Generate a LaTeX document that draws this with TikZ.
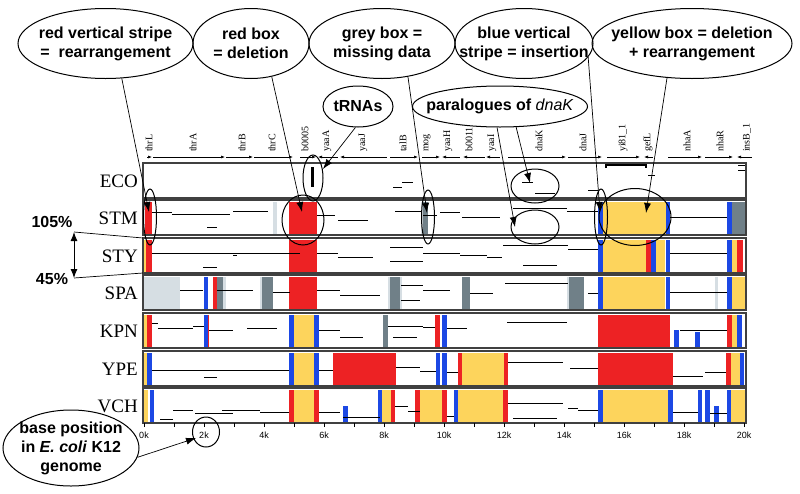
\documentclass[tikz,border=0pt]{standalone}
\usepackage{fontspec}
\setmainfont{Liberation Serif}
\setsansfont{Liberation Sans}
\usetikzlibrary{shapes.geometric,arrows.meta}
\definecolor{delred}{RGB}{237,34,36}
\definecolor{insblue}{RGB}{28,72,228}
\definecolor{indelyellow}{RGB}{253,212,92}
\definecolor{nodata}{RGB}{112,128,136}
\definecolor{nodatalight}{RGB}{214,222,227}
\tikzset{
    callout/.style={ellipse, draw, line width=1pt, inner xsep=-20pt,
        inner ysep=-2pt, minimum height=70pt, align=center,
        font=\sffamily\bfseries\fontsize{16}{19}\selectfont}
}
\tikzset{
    ring/.style={ellipse, draw, line width=1pt, inner sep=0pt}
}
\tikzset{
    pointer/.style={-{Latex[length=10pt,width=7pt]}, line width=0.7pt},
    span/.style={{Latex[length=9pt,width=7pt]}-{Latex[length=9pt,width=7pt]},
        line width=1pt}
}
\tikzset{
    frame/.style={draw=black!75, line width=1.4pt},
    seg/.style={line width=0.9pt},
    fwd/.style={-{Latex[length=4pt,width=3pt]}, line width=0.6pt},
    bwd/.style={{Latex[length=4pt,width=3pt]}-, line width=0.6pt},
    species/.style={anchor=east, inner sep=0pt, font=\fontsize{19}{19}\selectfont},
    gene/.style={rotate=90, anchor=west, inner sep=1pt, font=\fontsize{10}{10}\selectfont},
    axislabel/.style={inner sep=1pt, font=\sffamily\fontsize{9}{9}\selectfont},
    pct/.style={inner sep=0pt, font=\sffamily\bfseries\fontsize{16}{16}\selectfont}
}

\begin{document}
\begin{tikzpicture}[x=1pt,y=-1pt]
  \useasboundingbox (0,0) rectangle (800,493);

  \foreach \a/\b/\t/\c in {145/152/200/delred, 273/277/200/nodatalight,
      289/317/200/delred, 421/423/200/nodatalight, 423/428/200/nodata,
      598/603/200/insblue, 603/666/200/indelyellow, 666/670/200/insblue,
      727/732/200/insblue, 732/746/200/nodata,
      144/146/238/indelyellow, 146/152/238/delred, 289/317/238/delred,
      598/603/238/insblue, 603/646/238/indelyellow, 646/651/238/delred,
      651/656/238/insblue, 656/665/238/indelyellow, 666/670/238/insblue,
      727/732/238/insblue, 732/737/238/indelyellow, 737/743/238/delred,
      144/180/275/nodatalight, 204/208/275/insblue, 213/217/275/delred,
      217/223/275/nodata, 223/226/275/nodatalight, 260/262/275/nodatalight,
      262/273/275/nodata, 289/317/275/delred, 388/390/275/nodatalight,
      390/400/275/nodata, 400/402/275/nodatalight, 462/470/275/nodata,
      567/569/275/nodatalight, 569/584/275/nodata, 598/603/275/insblue,
      603/665/275/indelyellow, 666/670/275/insblue, 715/718/275/nodatalight,
      727/732/275/insblue, 732/746/275/indelyellow,
      144/147/313/indelyellow, 147/152/313/delred, 204/208/313/insblue,
      208/209/313/delred, 289/294/313/insblue, 294/314/313/indelyellow,
      314/319/313/insblue, 383/388/313/nodata, 435/440/313/delred,
      442/447/313/insblue, 598/670/313/delred, 727/732/313/delred,
      732/737/313/indelyellow, 737/742/313/insblue,
      144/147/351/indelyellow, 147/152/351/insblue, 289/294/351/insblue,
      294/314/351/indelyellow, 314/319/351/insblue, 333/396/351/delred,
      436/440/351/insblue, 442/447/351/insblue, 458/462/351/delred,
      462/504/351/indelyellow, 504/508/351/delred, 598/673/351/delred,
      726/731/351/delred, 731/740/351/indelyellow, 740/744/351/insblue,
      144/148/388/indelyellow, 150/154/388/insblue, 289/294/388/delred,
      294/314/388/indelyellow, 314/319/388/delred, 378/382/388/insblue,
      382/391/388/indelyellow, 391/395/388/delred, 415/420/388/delred,
      420/442/388/indelyellow, 442/447/388/delred, 454/458/388/insblue,
      458/503/388/indelyellow, 503/508/388/delred, 598/603/388/insblue,
      603/668/388/indelyellow, 668/673/388/insblue, 698/702/388/insblue,
      705/710/388/insblue, 727/731/388/insblue, 731/746/388/indelyellow}
    \fill[\c] (\a,\t+1.5) rectangle (\b,\t+33.5);
  \fill[insblue] (674,330) rectangle (679,346.5);
  \fill[insblue] (695,332) rectangle (700,346.5);
  \fill[insblue] (343,406) rectangle (348,421.5);
  \fill[insblue] (714,406) rectangle (719,421.5);

  \foreach \a/\b/\y in {393/402/187, 402/413/182, 588/598/190, 522/533/182,
      535/555/193, 648/655/175, 738/746/165, 738/746/170,
      152/172/212, 172/230/214, 233/268/211, 207/217/227, 317/335/215,
      338/368/220, 395/422/211, 423/437/215, 440/460/212, 462/500/217,
      513/567/208, 567/598/211, 670/710/217, 710/727/217,
      152/300/253, 203/217/267, 233/237/255, 317/338/253, 338/373/257,
      390/423/247, 390/423/261, 423/460/253, 460/487/255, 487/502/257,
      503/568/245, 568/598/249, 523/557/265, 670/727/253,
      180/203/290, 217/253/290, 273/290/292, 317/340/290, 340/380/295,
      401/423/285, 401/420/300, 423/450/290, 470/493/293, 505/568/283,
      588/598/293, 670/727/292,
      152/158/323, 158/193/328, 193/204/326, 209/233/330, 247/277/328,
      319/340/330, 340/363/337, 388/423/326, 393/417/337, 423/435/327,
      447/467/328, 507/567/322, 680/727/330,
      152/289/370, 204/217/377, 319/333/370, 396/420/367, 420/436/371,
      447/458/372, 508/563/362, 570/598/368, 673/703/376, 705/726/372,
      160/173/419, 173/193/410, 195/233/413, 222/260/410, 260/289/412,
      319/340/412, 343/380/417, 395/408/406, 408/420/411, 447/454/416,
      508/563/403, 513/557/418, 568/578/408, 578/598/410, 673/698/412,
      710/727/413}
    \draw[seg] (\a,\y) -- (\b,\y);
  \fill (311,167) rectangle (314,187);
  \draw[line width=1.6pt, {Bar[width=6pt]}-{Bar[width=6pt]}] (605,165) -- (647,165);

  \foreach \t in {163,200,238,275,313,351,388}
    \draw[frame] (143,\t) rectangle (746,\t+35);
  \foreach \s/\t in {ECO/163, STM/200, STY/238, SPA/275, KPN/313, YPE/351, VCH/388}
    \node[species] (\s) at (138,\t+18) {\s};

  \foreach \a/\b/\d in {147/152/fwd, 153/225/fwd, 226/253/fwd, 254/293/fwd,
      300/316/fwd, 318/338/bwd, 340/387/bwd, 390/418/fwd, 422/440/fwd,
      442/460/bwd, 463/485/bwd, 486/500/bwd, 508/566/fwd, 568/602/fwd,
      607/640/fwd, 644/653/bwd, 668/702/fwd, 705/733/fwd, 737/752/bwd}
    \draw[\d] (\a,157) -- (\b,157);
  \foreach \x/\g [count=\i] in {149/thrL, 193/thrA, 242/thrB, 272/thrC,
      305/b0005, 327/yaaA, 363/yaaJ, 403/talB, 427/mog, 448/yaaH,
      469/b0011, 492/yaaI, 539/dnaK, 583/dnaJ, 623/yi81\_1, 648/gefL,
      687/nhaA, 720/nhaR, 747/insB\_1}
    \node[gene] (gene\i) at (\x,153) {\g};

  \foreach \kb in {0,...,20}
    \draw[line width=0.6pt] (144+30*\kb,423) -- (144+30*\kb,427);
  \foreach \kb in {0,2,...,20}
    \node[axislabel] (tick\kb) at (144+30*\kb,435) {\kb k};

  \node[pct] (p105) at (52,222) {105\%};
  \node[pct] (p45) at (52,279) {45\%};
  \coordinate (hitop) at (74,232);
  \coordinate (lobot) at (74,278);
  \coordinate (stytop) at (143,238);
  \coordinate (stybot) at (143,273);
  \draw[span] (hitop) -- (lobot);
  \draw[line width=0.7pt] (hitop) -- (stytop);
  \draw[line width=0.7pt] (lobot) -- (stybot);

  \node[ring, minimum width=13pt, minimum height=56pt] (stripering) at (150,217) {};
  \node[ring, minimum width=42pt, minimum height=50pt] (deletering) at (303,220) {};
  \node[ring, minimum width=20pt, minimum height=46pt] (trnaring) at (313,178) {};
  \node[ring, minimum width=13pt, minimum height=54pt] (greyring) at (428,217) {};
  \node[ring, minimum width=48pt, minimum height=34pt] (ecoring) at (535,186) {};
  \node[ring, minimum width=48pt, minimum height=34pt] (stmring) at (535,227) {};
  \node[ring, minimum width=13pt, minimum height=56pt] (bluering) at (601,217) {};
  \node[ring, minimum width=72pt, minimum height=57pt] (yellowring) at (635,217) {};
  \node[ring, minimum width=27pt, minimum height=30pt] (twokring) at (206,432) {};

  \node[callout, minimum width=175pt] (rearr) at (105.5,43.5)
    {red vertical stripe\\=\ \ rearrangement};
  \node[callout, minimum width=116pt] (delbox) at (251,43.5) {red box\\= deletion};
  \node[callout, minimum width=146pt] (greybox) at (382,43.5) {grey box =\\missing data};
  \node[callout, minimum width=138pt] (insstripe) at (524,43.5)
    {blue vertical\\stripe = insertion};
  \node[callout, minimum width=200pt] (yelbox) at (692,43.5)
    {yellow box = deletion\\+ rearrangement};
  \node[callout, minimum width=70pt, minimum height=41pt] (trna) at (358,106.5) {tRNAs};
  \node[callout, minimum width=175pt, minimum height=41pt] (para) at (500,106.5)
    {paralogues of \textmd{\textit{dnaK}}};
  \node[callout, minimum width=136pt, minimum height=76pt] (basepos) at (71,448)
    {base position\\in \textit{E. coli} K12\\genome};

  \coordinate (stmstripe) at (149,212);
  \coordinate (stmdel) at (302,212);
  \coordinate (stmgrey) at (427,213);
  \coordinate (stmins) at (600,212);
  \coordinate (stmyel) at (646,213);
  \coordinate (ecotrna) at (323,169);
  \coordinate (ecopara) at (530,183);
  \coordinate (stmpara) at (515,227);
  \coordinate (twok) at (196,438);
  \draw[pointer] (rearr.-65) -- (stmstripe);
  \draw[pointer] (delbox.-58) -- (stmdel);
  \draw[pointer] (greybox.-52) -- (stmgrey);
  \draw[pointer] (insstripe.-12) -- (stmins);
  \draw[pointer] (yelbox.-126) -- (stmyel);
  \draw[pointer] (trna.-97) -- (ecotrna);
  \draw[pointer] (para.-52) -- (ecopara);
  \draw[pointer] (para.-98) -- (stmpara);
  \draw[pointer] (basepos.-8) -- (twok);
\end{tikzpicture}
\end{document}
